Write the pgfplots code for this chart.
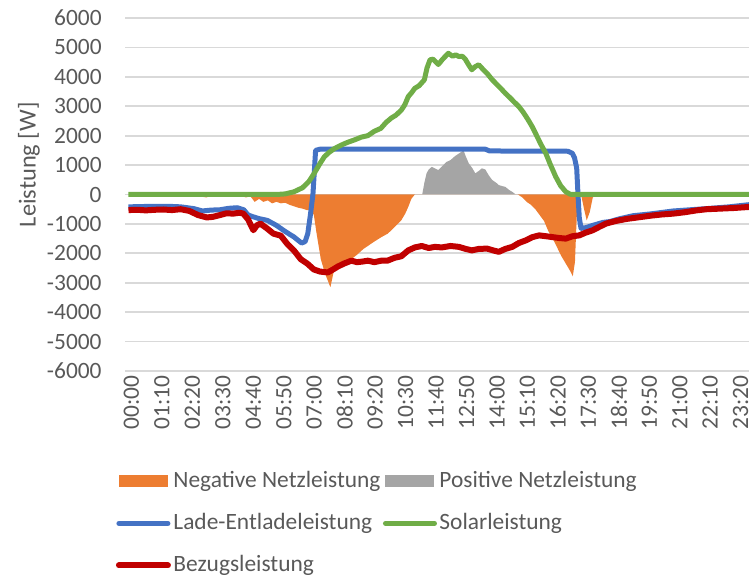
\documentclass[border=0pt]{standalone}
\usepackage{fontspec}
\setmainfont{Carlito}
\usepackage{pgfplots}
\pgfplotsset{compat=1.18}

\definecolor{txtgrey}{HTML}{595959}
\definecolor{gridgrey}{HTML}{D9D9D9}
\definecolor{negorange}{HTML}{ED7D31}
\definecolor{posgrey}{HTML}{A5A5A5}
\definecolor{ladeblue}{HTML}{4472C4}
\definecolor{solargreen}{HTML}{70AD47}
\definecolor{bezugred}{HTML}{C00000}

\begin{document}
\fontsize{11.7}{14}\selectfont
\begin{tikzpicture}
\useasboundingbox (0,0) rectangle (374.5pt,288pt);
\begin{axis}[
    at={(62.5pt,102.5pt)}, anchor=south west,
    width=312pt, height=176.5pt, scale only axis,
    xmin=-8, xmax=1426,
    ymin=-6000, ymax=6000,
    ytick={-6000,-5000,...,6000},
    xtick={0,70,...,1400},
    xticklabels={00:00,01:10,02:20,03:30,04:40,05:50,07:00,08:10,09:20,10:30,
      11:40,12:50,14:00,15:10,16:20,17:30,18:40,19:50,21:00,22:10,23:20},
    /pgf/number format/assume math mode=true,
    /pgf/number format/1000 sep={},
    ymajorgrids,
    grid style={draw=gridgrey, line width=0.9pt},
    axis line style={draw=none},
    tick style={draw=none},
    every tick label/.append style={font=\fontsize{11.7}{14}\selectfont, text=txtgrey},
    yticklabel style={anchor=east, inner sep=0pt, xshift=-11.5pt},
    xticklabel style={xshift=1.5pt, yshift=-2pt, rotate=90, anchor=east, inner sep=0pt},
    ylabel={Leistung [W]},
    ylabel style={at={(axis description cs:-0.154,0.584)}, anchor=center,
      font=\fontsize{12.2}{14}\selectfont, text=txtgrey},
    legend columns=2,
    legend cell align=left,
    legend style={
      at={(axis description cs:-0.0248,-0.2663)}, anchor=north west,
      draw=none, fill=none,
      font=\fontsize{11.7}{14}\selectfont, text=txtgrey,
      nodes={inner sep=0pt, text height=9pt, text depth=3pt},
      column sep=1.25pt, row sep=9pt,
    },
    legend image code/.code={\draw[#1, line cap=round] (1pt,0pt) -- (25.5pt,0pt);},
    area legend/.style={legend image code/.code={\fill[##1] (1pt,-3pt) rectangle (25.5pt,3pt);}},
  ]

  % Negative Netzleistung
  \addplot[fill=negorange, draw=none, area legend] coordinates {
    (0,0) (160,0) (170,-80) (180,-100) (190,0) (250,0) (260,-50) (270,-100)
    (280,-60) (290,-250) (300,-150) (310,-250) (320,-200) (330,-300)
    (340,-250) (350,-300) (360,-280) (370,-350) (380,-400) (390,-450)
    (400,-480) (410,-530) (420,-520) (426,-700) (432,-1300) (442,-2200)
    (452,-2700) (464,-3150) (472,-2600) (481,-2500) (495,-2350) (512,-2200)
    (525,-2050) (540,-1850) (550,-1750) (565,-1600) (581,-1450) (596,-1330)
    (612,-1100) (627,-875) (636,-650) (643,-420) (650,-150) (658,0)
    (895,0) (905,-100) (915,-250) (925,-350) (935,-500) (945,-700)
    (955,-900) (965,-1250) (975,-1500) (985,-1800) (995,-2100) (1005,-2350)
    (1015,-2600) (1021,-2780) (1026,-2300) (1030,-800) (1033,0) (1040,0)
    (1047,-500) (1053,-880) (1060,-600) (1067,-100) (1075,0) (1110,0)
    (1120,-40) (1130,0) (1150,0) (1160,-30) (1170,0) (1430,0)
  } \closedcycle;
  \addlegendentry{Negative Netzleistung}

  % Positive Netzleistung
  \addplot[fill=posgrey, draw=none, area legend] coordinates {
    (0,0) (675,0) (680,400) (685,720) (690,850) (697,940) (705,880)
    (712,830) (720,950) (730,1100) (740,1170) (750,1300) (760,1400)
    (770,1500) (775,1300) (782,1060) (790,900) (797,720) (805,800)
    (812,890) (820,850) (828,650) (836,490) (845,400) (851,320) (860,280)
    (866,260) (875,150) (882,90) (890,0) (1430,0)
  } \closedcycle;
  \addlegendentry{Positive Netzleistung}

  % Lade-Entladeleistung
  \addplot[ladeblue, line width=2.5pt, line join=round] coordinates {
    (0,-420) (30,-410) (60,-400) (90,-400) (120,-420) (150,-480) (170,-560)
    (190,-530) (210,-520) (230,-470) (250,-450) (265,-520) (275,-700)
    (287,-760) (300,-820) (319,-880) (340,-1050) (356,-1215) (370,-1350)
    (380,-1440) (390,-1560) (398,-1650) (406,-1600) (412,-1330) (418,-700)
    (424,30) (430,1500) (440,1540) (820,1540) (830,1480) (1010,1470)
    (1020,1400) (1025,1250) (1030,900) (1033,0) (1036,-800) (1040,-1150)
    (1050,-1130) (1067,-1050) (1090,-950) (1106,-920) (1130,-820)
    (1160,-720) (1200,-660) (1252,-560) (1290,-520) (1329,-480)
    (1380,-420) (1430,-340)
  };
  \addlegendentry{Lade-Entladeleistung}

  % Solarleistung
  \addplot[solargreen, line width=2.5pt, line join=round] coordinates {
    (0,0) (340,0) (360,20) (380,90) (400,230) (415,450) (426,700)
    (440,1050) (450,1280) (460,1420) (472,1550) (485,1650) (495,1720)
    (505,1780) (520,1860) (535,1950) (550,2000) (565,2150) (580,2250)
    (592,2450) (604,2600) (615,2700) (627,2870) (635,3050) (643,3330)
    (650,3450) (658,3610) (668,3700) (680,3900) (686,4300) (693,4580)
    (700,4600) (712,4420) (722,4600) (735,4800) (745,4700) (752,4750)
    (759,4690) (767,4700) (774,4600) (782,4400) (789,4240) (797,4350)
    (805,4410) (815,4250) (825,4100) (836,3900) (846,3750) (856,3600)
    (866,3440) (876,3300) (886,3150) (897,2990) (907,2800) (918,2550)
    (928,2300) (938,2000) (948,1700) (959,1400) (970,1000) (982,600)
    (993,300) (1005,90) (1015,10) (1021,0) (1430,0)
  };
  \addlegendentry{Solarleistung}

  % Bezugsleistung
  \addplot[bezugred, line width=3pt, line join=round] coordinates {
    (0,-530) (20,-520) (40,-540) (60,-520) (80,-510) (100,-530) (120,-500)
    (140,-560) (160,-700) (180,-780) (194,-760) (210,-700) (225,-640)
    (241,-650) (255,-620) (264,-650) (275,-850) (287,-1215) (295,-1050)
    (303,-990) (318,-1150) (333,-1330) (350,-1400) (366,-1700) (380,-1900)
    (396,-2200) (411,-2350) (426,-2550) (440,-2620) (458,-2650) (470,-2550)
    (481,-2450) (495,-2350) (512,-2250) (525,-2300) (538,-2280) (550,-2250)
    (565,-2300) (581,-2250) (595,-2250) (612,-2150) (627,-2100) (643,-1900)
    (658,-1800) (674,-1750) (690,-1820) (704,-1780) (720,-1800) (740,-1750)
    (759,-1780) (775,-1850) (789,-1900) (805,-1850) (824,-1840) (838,-1900)
    (851,-1950) (866,-1850) (882,-1780) (897,-1650) (913,-1560) (928,-1450)
    (944,-1390) (960,-1420) (975,-1450) (990,-1480) (1005,-1500)
    (1020,-1420) (1036,-1390) (1050,-1300) (1067,-1215) (1082,-1100)
    (1097,-990) (1120,-900) (1145,-830) (1175,-770) (1200,-720) (1225,-680)
    (1252,-650) (1280,-600) (1305,-540) (1329,-500) (1360,-480)
    (1390,-460) (1410,-440) (1430,-420)
  };
  \addlegendentry{Bezugsleistung}
\end{axis}
\end{tikzpicture}
\end{document}
